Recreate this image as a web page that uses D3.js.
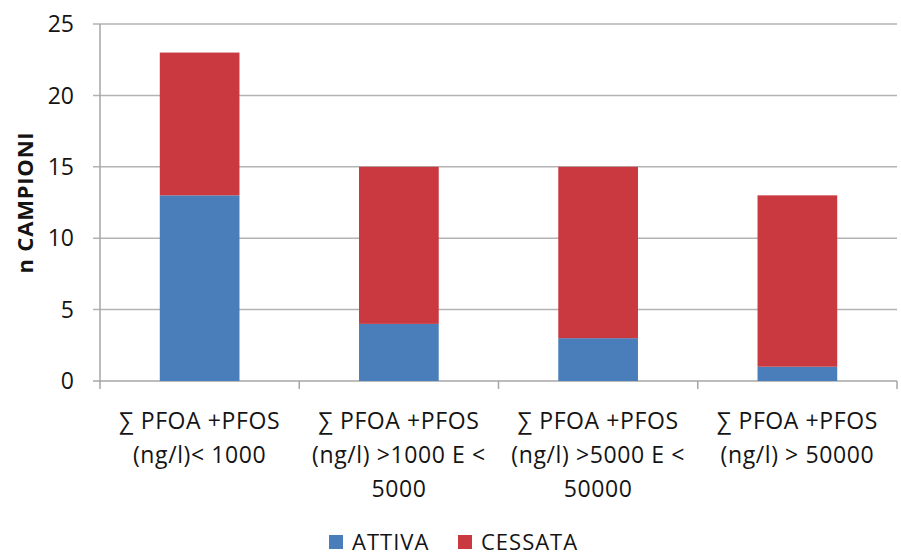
<!DOCTYPE html>
<meta charset="utf-8">
<script src="https://d3js.org/d3.v7.min.js"></script>
<style>
body { margin: 0; background: #fff; }
text { font-family: "Open Sans", "Liberation Sans", sans-serif; fill: #141414; }
</style>
<body>
<script>
// data
var categories = [
  ["∑ PFOA +PFOS", "(ng/l)< 1000"],
  ["∑ PFOA +PFOS", "(ng/l) >1000 E <", "5000"],
  ["∑ PFOA +PFOS", "(ng/l) >5000 E <", "50000"],
  ["∑ PFOA +PFOS", "(ng/l) > 50000"]
];
var attiva = [13, 4, 3, 1];
var cessata = [10, 11, 12, 12];
var seriesNames = ["ATTIVA", "CESSATA"];
var colors = ["#4a7ebb", "#c9393f"];
var yTicks = [0, 5, 10, 15, 20, 25];

var width = 901, height = 555;
var margin = {left: 100, right: 4, top: 24, bottom: 174};

var svg = d3.select("body").append("svg")
    .attr("width", width)
    .attr("height", height);

var x = d3.scaleBand()
    .domain(d3.range(categories.length))
    .range([margin.left, width - margin.right])
    .paddingInner(0.6)
    .paddingOuter(0.3);

var xOuter = d3.scaleBand()
    .domain(d3.range(categories.length))
    .range([margin.left, width - margin.right]);

var y = d3.scaleLinear()
    .domain([0, 25])
    .range([height - margin.bottom, margin.top]);

// gridlines
svg.append("g").selectAll("line")
    .data(yTicks)
    .enter().append("line")
    .attr("x1", margin.left - 7)
    .attr("x2", width - margin.right)
    .attr("y1", function(d) { return y(d); })
    .attr("y2", function(d) { return y(d); })
    .attr("stroke", function(d) { return d === 0 ? "#a6a6a6" : "#b3b3b3"; })
    .attr("stroke-width", 1.5);

// y axis line
svg.append("line")
    .attr("x1", margin.left).attr("x2", margin.left)
    .attr("y1", y(25)).attr("y2", y(0))
    .attr("stroke", "#a6a6a6").attr("stroke-width", 1.5);

// x category separator ticks
svg.append("g").selectAll("line")
    .data(d3.range(categories.length + 1))
    .enter().append("line")
    .attr("x1", function(i) { return i < categories.length ? xOuter(i) : width - margin.right; })
    .attr("x2", function(i) { return i < categories.length ? xOuter(i) : width - margin.right; })
    .attr("y1", y(0))
    .attr("y2", y(0) + 8)
    .attr("stroke", "#a6a6a6").attr("stroke-width", 1.5);

// y tick labels
svg.append("g").selectAll("text")
    .data(yTicks)
    .enter().append("text")
    .attr("x", margin.left - 26)
    .attr("y", function(d) { return y(d); })
    .attr("dy", "0.36em")
    .attr("text-anchor", "end")
    .style("font-size", "23px")
    .text(function(d) { return d; });

// y title
svg.append("text")
    .attr("transform", "translate(33," + y(12.5) + ") rotate(-90)")
    .attr("text-anchor", "middle")
    .style("font-size", "22px")
    .style("font-weight", "bold")
    .style("letter-spacing", "0.8px")
    .text("n CAMPIONI");

// stacked bars
var stackData = categories.map(function(c, i) { return {i: i, ATTIVA: attiva[i], CESSATA: cessata[i]}; });
var stack = d3.stack().keys(seriesNames)(stackData);

svg.append("g").selectAll("g")
    .data(stack)
    .enter().append("g")
    .attr("fill", function(d, k) { return colors[k]; })
    .selectAll("rect")
    .data(function(d) { return d; })
    .enter().append("rect")
    .attr("x", function(d) { return x(d.data.i); })
    .attr("width", x.bandwidth())
    .attr("y", function(d) { return y(d[1]); })
    .attr("height", function(d) { return y(d[0]) - y(d[1]); });

// x labels
var lab = svg.append("g").selectAll("text")
    .data(categories)
    .enter().append("text")
    .attr("text-anchor", "middle")
    .style("font-size", "23px")
    .style("letter-spacing", "0.6px")
    .attr("transform", function(d, i) { return "translate(" + (xOuter(i) + xOuter.bandwidth() / 2) + ",429)"; });

lab.selectAll("tspan")
    .data(function(d) { return d; })
    .enter().append("tspan")
    .attr("x", 0)
    .attr("y", function(d, j) { return j * 34; })
    .text(function(d) { return d; });

// legend
var legX = [329, 458];
var leg = svg.append("g").selectAll("g")
    .data(seriesNames)
    .enter().append("g")
    .attr("transform", function(d, k) { return "translate(" + legX[k] + ",535)"; });
leg.append("rect")
    .attr("width", 14).attr("height", 14)
    .attr("fill", function(d, k) { return colors[k]; });
leg.append("text")
    .attr("x", 23).attr("y", 7)
    .attr("dy", "0.36em")
    .style("font-size", "22px")
    .style("letter-spacing", "1px")
    .text(function(d) { return d; });
</script>
</body>
</html>
